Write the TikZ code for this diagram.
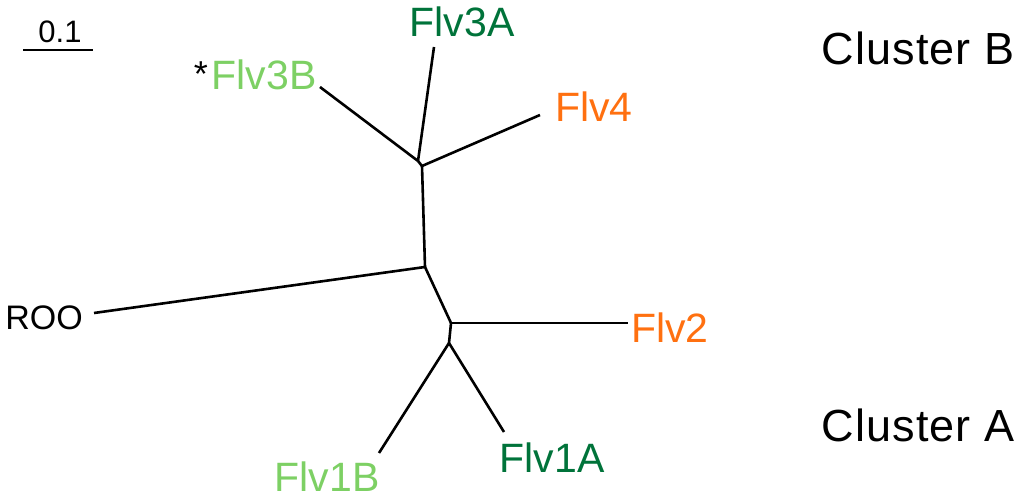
\documentclass[tikz,border=0pt]{standalone}
\usepackage{fontspec}
\setmainfont{Liberation Sans}
\newfontfamily\clusfont[LetterSpace=2.5]{Liberation Sans}
\definecolor{dkgreen}{RGB}{0,115,58}
\definecolor{ltgreen}{RGB}{125,208,100}
\definecolor{flvorange}{RGB}{255,112,16}
\begin{document}
\begin{tikzpicture}[x=1pt,y=-1pt,
  branch/.style={line width=2.6pt,black},
  lbl/.style={inner sep=0pt,anchor=center,font=\fontsize{41}{48}\selectfont},
  clus/.style={inner sep=0pt,anchor=center,font=\clusfont\fontsize{45}{52}\selectfont},
  small/.style={inner sep=0pt,anchor=center,font=\fontsize{34}{40}\selectfont}]
\useasboundingbox (0,0) rectangle (1024,502);
% internal nodes
\coordinate (nB1) at (418,161);
\coordinate (nB2) at (422,166);
\coordinate (root) at (425,267);
\coordinate (nA1) at (451,323);
\coordinate (nA2) at (449,343);
% leaf ends
\coordinate (e3B) at (320,87);
\coordinate (e3A) at (434,47);
\coordinate (e4) at (540,115);
\coordinate (eROO) at (94,313);
\coordinate (e2) at (628,323);
\coordinate (e1B) at (379,453);
\coordinate (e1A) at (504,432);
\coordinate (sbL) at (23,50);
\coordinate (sbR) at (93,50);
% labels
\node[lbl,text=ltgreen] (t3B) at (264,75) {Flv3B};
\node[inner sep=0pt,font=\fontsize{36}{40}\selectfont] (ast) at (201,74) {*};
\node[lbl,text=dkgreen] (t3A) at (462,22) {Flv3A};
\node[lbl,text=flvorange] (t4) at (594,107) {Flv4};
\node[lbl,text=flvorange] (t2) at (670,328) {Flv2};
\node[lbl,text=ltgreen] (t1B) at (327,477) {Flv1B};
\node[lbl,text=dkgreen] (t1A) at (552,458) {Flv1A};
\node[small] (tROO) at (44,318) {ROO};
\node[small,font=\fontsize{31}{36}\selectfont] (tsb) at (60,32) {0.1};
\node[clus] (cB) at (918,48) {Cluster B};
\node[clus] (cA) at (918,425) {Cluster A};
% branches
\draw[branch] (e3B) -- (nB1);
\draw[branch] (e3A) -- (nB1);
\draw[branch] (nB1) -- (nB2);
\draw[branch] (e4) -- (nB2);
\draw[branch] (nB2) -- (root);
\draw[branch] (eROO) -- (root);
\draw[branch] (root) -- (nA1);
\draw[branch] (nA1) -- (e2);
\draw[branch] (nA1) -- (nA2);
\draw[branch] (nA2) -- (e1B);
\draw[branch] (nA2) -- (e1A);
\draw[branch] (sbL) -- (sbR);
\end{tikzpicture}
\end{document}
